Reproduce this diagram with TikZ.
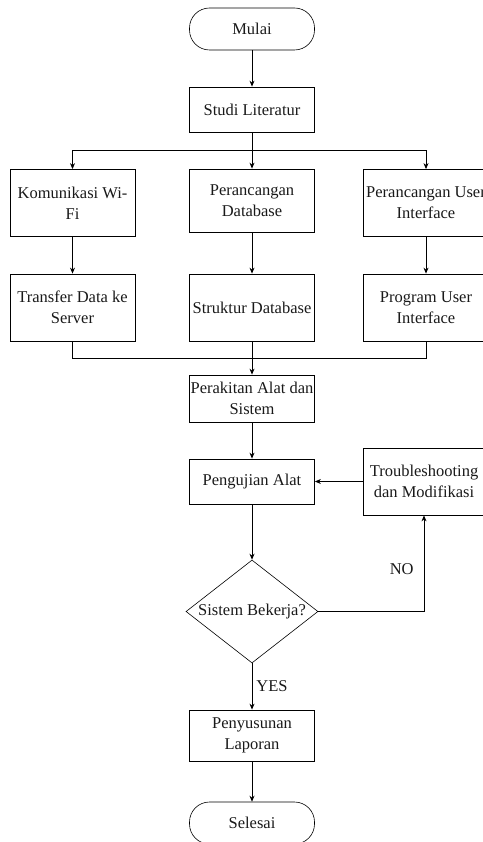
\documentclass[tikz,border=0pt]{standalone}
\usepackage{fontspec}
\setmainfont{Liberation Serif}
\usetikzlibrary{shapes.geometric,arrows.meta}

\begin{document}
\begin{tikzpicture}[x=1pt,y=1pt]
\tikzstyle{every node}+=[inner sep=0pt,font=\fontsize{16.5}{21}\selectfont,text=black!90]
\tikzstyle{proses}=[draw,rectangle,minimum width=125pt,align=center,line width=0.8pt]
\tikzstyle{terminal}=[draw,rectangle,rounded corners=20pt,minimum width=125pt,minimum height=42pt,line width=0.6pt]
\tikzstyle{keputusan}=[draw,diamond,aspect=1.3,minimum width=132pt,minimum height=103pt,line width=0.6pt]
\tikzstyle{panah}=[-{Stealth[length=6pt,width=5pt]},line width=0.8pt]
\useasboundingbox (0,0) rectangle (482,-842);
\node [terminal] (mulai) at (252,-29) {Mulai};
\node [proses,minimum height=45pt] (studi) at (252,-109.5) {Studi Literatur};
\node [proses,minimum height=67pt] (wifi) at (72.5,-203) {Komunikasi Wi-\\Fi};
\node [proses,minimum height=63pt] (rancangdb) at (252,-200.5) {Perancangan\\Database};
\node [proses,minimum height=67pt] (rancangui) at (426,-203) {Perancangan User\\Interface};
\node [proses,minimum height=67pt] (transfer) at (72.5,-307.5) {Transfer Data ke\\Server};
\node [proses,minimum height=67pt] (strukturdb) at (252,-307.5) {Struktur Database};
\node [proses,minimum height=67pt] (programui) at (426,-307.5) {Program User\\Interface};
\node [proses,minimum height=47pt] (rakit) at (252,-398.5) {Perakitan Alat dan\\Sistem};
\node [proses,minimum height=45pt] (uji) at (252,-481.5) {Pengujian Alat};
\node [proses,minimum height=67pt,minimum width=122pt] (trouble) at (424,-481.5) {Troubleshooting\\dan Modifikasi};
\node [keputusan] (cek) at (252,-611.5) {Sistem Bekerja?};
\node [proses,minimum height=51pt] (lapor) at (252,-735.5) {Penyusunan\\Laporan};
\node [terminal] (selesai) at (252,-823) {Selesai};
\coordinate (cabang) at (252,-150);
\coordinate (gabung) at (252,-358);
\draw [panah] (mulai) -- (studi);
\draw [line width=0.8pt] (studi) -- (cabang);
\draw [panah] (cabang) -| (wifi);
\draw [panah] (cabang) -- (rancangdb);
\draw [panah] (cabang) -| (rancangui);
\draw [panah] (wifi) -- (transfer);
\draw [panah] (rancangdb) -- (strukturdb);
\draw [panah] (rancangui) -- (programui);
\draw [line width=0.8pt] (transfer) |- (gabung);
\draw [line width=0.8pt] (programui) |- (gabung);
\draw [panah] (strukturdb) -- (rakit);
\draw [panah] (rakit) -- (uji);
\draw [panah] (uji) -- (cek);
\draw [panah] (cek) -| node [pos=0.72,left=10pt] (no) {NO} (trouble);
\draw [panah] (trouble) -- (uji);
\draw [panah] (cek) -- node [right=4pt] (yes) {YES} (lapor);
\draw [panah] (lapor) -- (selesai);
\end{tikzpicture}
\end{document}
